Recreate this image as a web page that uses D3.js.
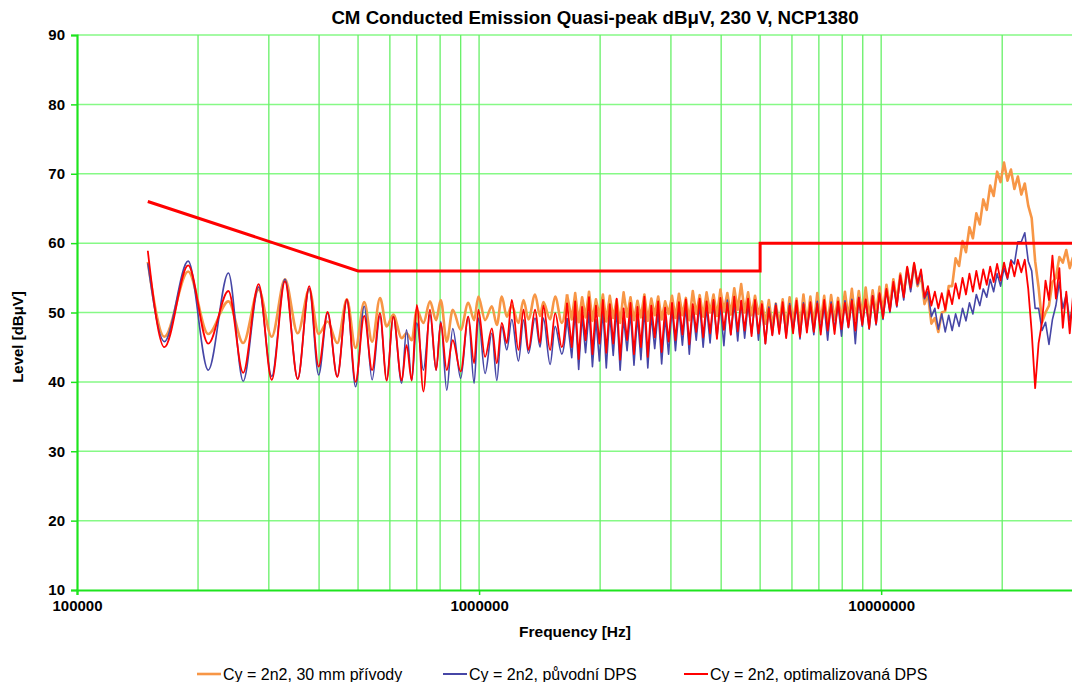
<!DOCTYPE html>
<html>
<head>
<meta charset="utf-8">
<script src="https://cdn.jsdelivr.net/npm/d3@7"></script>
<style>
  body { margin: 0; background: #fff; }
  text { font-family: "Liberation Sans", Arial, sans-serif; fill: #000; }
</style>
</head>
<body>
<div id="chart"></div>
<script>
// measurement frequencies [kHz]
var freqKHz = [
  150, 165, 189, 212, 238, 259, 283, 305, 329, 354,
  378, 399, 420, 444, 469, 493, 518, 542, 567, 589,
  612, 642, 660, 680, 700, 727, 755, 782, 803, 831,
  860, 900, 940, 972, 996, 1035, 1076, 1107, 1139, 1172,
  1206, 1253, 1290, 1327, 1378, 1418, 1445, 1502, 1546, 1606,
  1655,
  1700, 1734, 1769, 1804, 1840, 1877, 1914, 1953, 1992, 2032,
  2072, 2114, 2156, 2199, 2243, 2288, 2334, 2380, 2428, 2477,
  2526, 2577, 2628, 2681, 2734, 2789, 2845, 2902, 2960, 3019,
  3079, 3141, 3204, 3268, 3333, 3400, 3468, 3537, 3608, 3680,
  3754, 3829, 3905, 3983, 4063, 4144, 4227, 4312, 4398, 4486,
  4576, 4667, 4761, 4856, 4953, 5052, 5153, 5256, 5362, 5469,
  5578, 5690, 5804, 5920, 6038, 6159, 6282, 6408, 6536, 6667,
  6800, 6936, 7075, 7217, 7361, 7508, 7658, 7812, 7968, 8127,
  8290, 8456, 8625, 8798, 8974, 9153, 9336, 9523, 9713, 9907,
  10105, 10308, 10514, 10724, 10939, 11157, 11381, 11608, 11840, 12077,
  12319, 12565, 12816, 13073, 13334, 13601, 13873, 14150, 14433, 14722,
  15016, 15317, 15623, 15936, 16254, 16579, 16911, 17249, 17594, 17946,
  18305, 18671, 19045, 19426, 19814, 20211, 20615, 21027, 21448, 21877,
  22314, 22761, 23216, 23680, 24154, 24637, 25130, 25632, 26145, 26668,
  27201, 27745, 28300, 28866, 29444, 30000
];
// the first points are the smooth low-frequency swings, the rest is the noisy part
var smoothCount = 51;

// Cy = 2n2, 30 mm privody
var orangeDb = [
  57.3, 46.5, 55.9, 46.9, 51.6, 45.6, 53.3, 46.5, 54.8, 47.0,
  53.3, 46.9, 48.7, 45.6, 51.9, 44.9, 51.5, 45.8, 52.1, 48.0,
  49.7, 46.3, 47.0, 46.0, 50.4, 48.5, 51.6, 48.9, 51.8, 45.8,
  50.4, 47.5, 51.4, 48.9, 52.3, 48.9, 50.9, 48.2, 52.3, 49.4,
  51.0, 48.5, 51.8, 49.0, 52.6, 49.5, 51.5, 49.0, 52.3, 48.5,
  52.6,
  49.0, 52.8, 48.6, 52.2, 49.3, 53.0, 48.8, 51.9, 49.5, 52.6,
  48.7, 52.4, 49.2, 51.8, 48.5, 52.9, 49.4, 52.2, 48.9, 51.7,
  49.3, 52.6, 48.8, 52.0, 49.6, 52.3, 49.0, 51.6, 49.8, 52.4,
  49.2, 52.7, 49.6, 52.1, 48.9, 53.1, 49.8, 52.5, 49.4, 52.9,
  50.0, 52.6, 49.5, 53.3, 50.2, 52.8, 49.7, 53.5, 50.4, 54.1,
  50.0, 52.9, 49.6, 52.4, 49.8, 51.6, 48.4, 51.8, 48.0, 51.3,
  48.3, 51.9, 47.9, 52.2, 48.6, 52.0, 48.0, 52.6, 48.4, 52.3,
  48.2, 52.8, 48.7, 52.4, 48.3, 52.5, 48.9, 52.1, 49.0, 53.0,
  49.2, 53.4, 49.0, 53.1, 49.5, 53.6, 49.3, 53.2, 49.8, 53.7,
  50.2, 54.0, 50.8, 54.8, 51.6, 55.6, 52.6, 56.4, 53.4, 57.0,
  53.8, 55.4, 51.2, 52.6, 48.4, 49.2, 47.2, 50.0, 50.2, 53.8,
  53.8, 57.8, 56.7, 60.3, 58.7, 62.3, 60.7, 64.3, 62.7, 66.3,
  64.8, 68.3, 66.8, 70.3, 68.8, 71.6, 69.0, 70.6, 67.8, 69.6,
  67.0, 68.6, 65.4, 63.6, 57.4, 53.6, 48.6, 50.0, 51.0, 54.4,
  55.0, 58.0, 57.2, 59.0, 56.4, 58.0
];

// Cy = 2n2, puvodni DPS
var blueDb = [
  57.1, 45.8, 57.4, 41.7, 55.7, 40.1, 53.7, 40.8, 54.8, 40.4,
  53.5, 41.0, 49.9, 40.8, 51.8, 39.3, 50.9, 40.3, 49.5, 40.2,
  49.4, 39.8, 47.5, 40.2, 48.5, 41.7, 49.7, 41.7, 48.7, 38.8,
  47.7, 40.5, 49.4, 39.8, 49.2, 41.2, 47.0, 40.2, 48.0, 44.6,
  49.0, 43.0, 48.9, 44.1, 49.2, 45.0, 49.2, 42.5, 48.0, 44.0,
  49.2,
  43.5, 50.3, 41.8, 49.6, 44.2, 50.1, 42.2, 49.0, 43.0, 50.4,
  42.0, 49.8, 43.8, 50.5, 41.7, 49.2, 44.5, 50.0, 42.4, 49.5,
  43.2, 50.6, 42.0, 49.7, 44.8, 50.2, 42.6, 49.4, 44.0, 50.8,
  44.5, 50.4, 45.3, 51.0, 44.0, 50.6, 46.0, 51.2, 45.0, 50.8,
  45.6, 51.5, 46.4, 51.0, 45.2, 51.8, 46.8, 51.3, 45.9, 51.6,
  46.3, 51.2, 47.0, 51.5, 46.0, 51.0, 45.5, 50.8, 46.8, 51.3,
  47.2, 50.9, 46.5, 51.3, 47.4, 51.0, 46.2, 51.4, 47.6, 50.8,
  46.8, 51.6, 47.3, 51.0, 46.0, 51.5, 47.5, 51.2, 46.6, 51.7,
  47.8, 51.9, 45.5, 52.2, 48.0, 51.8, 47.6, 52.4, 48.2, 52.6,
  49.0, 53.2, 50.0, 54.0, 50.8, 55.2, 51.8, 56.4, 53.0, 57.0,
  54.0, 55.8, 52.0, 53.0, 49.4, 50.6, 47.6, 49.8, 47.2, 49.6,
  47.4, 49.8, 48.0, 50.6, 48.8, 51.4, 49.8, 52.6, 51.0, 53.4,
  52.2, 54.8, 53.0, 55.6, 53.8, 56.4, 54.8, 57.6, 57.0, 60.2,
  60.2, 61.5, 57.4, 56.0, 50.6, 50.6, 47.4, 48.6, 45.4, 49.0,
  51.0, 54.4, 50.6, 52.6, 48.8, 51.0
];

// Cy = 2n2, optimalizovana DPS
var redDb = [
  58.9, 45.0, 56.8, 45.5, 53.1, 41.3, 54.1, 40.3, 54.5, 40.4,
  53.8, 42.2, 50.1, 40.7, 51.9, 40.0, 49.5, 41.7, 49.9, 40.2,
  49.4, 40.2, 45.3, 40.2, 51.1, 38.6, 50.4, 41.7, 48.5, 41.7,
  46.0, 41.5, 49.4, 42.7, 50.4, 43.6, 47.7, 42.7, 48.5, 45.6,
  51.8, 44.6, 50.4, 44.6, 50.4, 45.6, 51.0, 44.6, 49.9, 45.0,
  51.4,
  45.0, 51.6, 43.3, 50.8, 46.0, 52.2, 44.0, 51.0, 45.5, 51.8,
  44.2, 51.2, 45.5, 52.0, 43.2, 50.6, 46.0, 51.4, 44.0, 50.8,
  45.0, 52.3, 43.6, 51.0, 46.4, 51.6, 44.3, 50.7, 45.8, 51.4,
  46.0, 51.5, 46.8, 51.9, 45.4, 51.2, 47.2, 52.0, 46.4, 51.6,
  47.0, 51.8, 46.2, 52.1, 47.5, 51.4, 46.8, 52.3, 47.3, 51.7,
  47.4, 52.0, 46.6, 51.8, 47.0, 51.2, 45.5, 50.6, 46.7, 51.0,
  46.9, 51.5, 46.3, 51.0, 47.0, 51.7, 46.5, 51.2, 47.1, 51.5,
  47.2, 51.3, 46.8, 51.8, 47.4, 51.2, 46.9, 51.6, 47.6, 51.4,
  47.9, 51.7, 47.4, 52.1, 48.2, 51.9, 47.7, 52.4, 48.4, 52.8,
  49.2, 53.4, 50.2, 54.4, 51.0, 55.4, 52.2, 56.6, 53.6, 57.2,
  54.2, 56.2, 52.2, 53.8, 51.0, 53.0, 50.6, 52.8, 50.4, 53.2,
  51.2, 54.2, 52.0, 55.0, 52.6, 55.6, 53.0, 56.0, 53.4, 56.2,
  54.0, 56.6, 54.4, 57.0, 54.6, 57.2, 55.0, 57.4, 55.2, 57.6,
  55.8, 57.6, 53.4, 47.2, 39.1, 45.6, 48.6, 54.6, 51.8, 58.2,
  52.0, 56.4, 47.8, 53.0, 47.0, 52.4
];

// EN 55022 class B quasi-peak limit
var limitFreqKHz = [150, 500, 5000, 5000, 30000];
var limitDb = [66, 56, 56, 60, 60];

var seriesNames = ["Cy = 2n2, 30 mm přívody", "Cy = 2n2, původní DPS", "Cy = 2n2, optimalizovaná DPS"];
var seriesColors = ["#f79646", "#4646a6", "#ff0000"];
var seriesWidths = [2.6, 1.6, 1.8];
var seriesLevels = [orangeDb, blueDb, redDb];

var yTicks = [10, 20, 30, 40, 50, 60, 70, 80, 90];
var xTicks = [1e5, 1e6, 1e7];
var xGrid = [2e5, 3e5, 4e5, 5e5, 6e5, 7e5, 8e5, 9e5, 1e6,
             2e6, 3e6, 4e6, 5e6, 6e6, 7e6, 8e6, 9e6, 1e7, 2e7];

var width = 1072, height = 682;
// plot area (don't use "top" as a global name, it's window.top)
var plotLeft = 77, plotRight = 1073, plotTop = 35, plotBottom = 590;

var svg = d3.select("#chart").append("svg")
    .attr("width", width)
    .attr("height", height);

var x = d3.scaleLog().domain([1e5, 3e7]).range([plotLeft, plotRight]);
var y = d3.scaleLinear().domain([10, 90]).range([plotBottom, plotTop]);

// gridlines
svg.append("g").selectAll("line")
    .data(yTicks.slice(1))
    .enter().append("line")
    .attr("x1", plotLeft).attr("x2", plotRight)
    .attr("y1", function(d) { return y(d); })
    .attr("y2", function(d) { return y(d); })
    .attr("stroke", "#86f986")
    .attr("stroke-width", 1.5);

svg.append("g").selectAll("line")
    .data(xGrid)
    .enter().append("line")
    .attr("x1", function(d) { return x(d); })
    .attr("x2", function(d) { return x(d); })
    .attr("y1", plotTop).attr("y2", plotBottom)
    .attr("stroke", "#66f066")
    .attr("stroke-width", 1.3);

// axes
var yAxis = svg.append("g")
    .attr("transform", "translate(" + plotLeft + ",0)")
    .call(d3.axisLeft(y).tickValues(yTicks).tickSize(6).tickPadding(6).tickFormat(d3.format("d")));
var xAxis = svg.append("g")
    .attr("transform", "translate(0," + plotBottom + ")")
    .call(d3.axisBottom(x).tickValues(xTicks).tickSize(5).tickPadding(5).tickFormat(d3.format("d")));

[yAxis, xAxis].forEach(function(a) {
    a.select(".domain").attr("stroke", "#1ee41e").attr("stroke-width", 2.2);
    a.selectAll(".tick line").attr("stroke", "#1ee41e").attr("stroke-width", 1.5);
    a.selectAll("text")
        .style("font-family", "Liberation Sans, Arial, sans-serif")
        .style("font-weight", "bold")
        .style("font-size", "15px")
        .attr("fill", "#000");
});

// measured traces: smooth swings at low frequency, sharp spikes above
var smoothLine = d3.line()
    .x(function(d) { return x(d[0] * 1000); })
    .y(function(d) { return y(d[1]); })
    .curve(d3.curveMonotoneX);
var spikyLine = d3.line()
    .x(function(d) { return x(d[0] * 1000); })
    .y(function(d) { return y(d[1]); });

seriesLevels.forEach(function(levels, i) {
    var pts = freqKHz.map(function(f, j) { return [f, levels[j]]; });
    var g = svg.append("g")
        .attr("fill", "none")
        .attr("stroke", seriesColors[i])
        .attr("stroke-width", seriesWidths[i])
        .attr("stroke-linejoin", "round");
    g.append("path").datum(pts.slice(0, smoothCount)).attr("d", smoothLine);
    g.append("path").datum(pts.slice(smoothCount - 1)).attr("d", spikyLine);
});

// limit line
svg.append("path")
    .datum(limitFreqKHz.map(function(f, j) { return [f, limitDb[j]]; }))
    .attr("d", spikyLine)
    .attr("fill", "none")
    .attr("stroke", "#ff0000")
    .attr("stroke-width", 3);

// titles
svg.append("text")
    .attr("x", 595).attr("y", 24)
    .attr("text-anchor", "middle")
    .style("font-weight", "bold").style("font-size", "18.7px")
    .text("CM Conducted Emission Quasi-peak dBμV, 230 V, NCP1380");

svg.append("text")
    .attr("x", (plotLeft + plotRight) / 2).attr("y", 637)
    .attr("text-anchor", "middle")
    .style("font-weight", "bold").style("font-size", "15.5px")
    .text("Frequency [Hz]");

svg.append("text")
    .attr("transform", "translate(23,337) rotate(-90)")
    .attr("text-anchor", "middle")
    .style("font-weight", "bold").style("font-size", "15px")
    .text("Level [dBμV]");

// legend
var legendX = [197, 443, 684];
var legend = svg.selectAll("g.legend")
    .data(seriesNames)
    .enter().append("g")
    .attr("class", "legend")
    .attr("transform", function(d, i) { return "translate(" + legendX[i] + ",674)"; });
legend.append("line")
    .attr("x1", 0).attr("x2", 24)
    .attr("stroke", function(d, i) { return seriesColors[i]; })
    .attr("stroke-width", function(d, i) { return i == 0 ? 2.6 : 2; });
legend.append("text")
    .attr("x", 26).attr("y", 5.5)
    .style("font-size", "16px")
    .text(function(d) { return d; });
</script>
</body>
</html>
